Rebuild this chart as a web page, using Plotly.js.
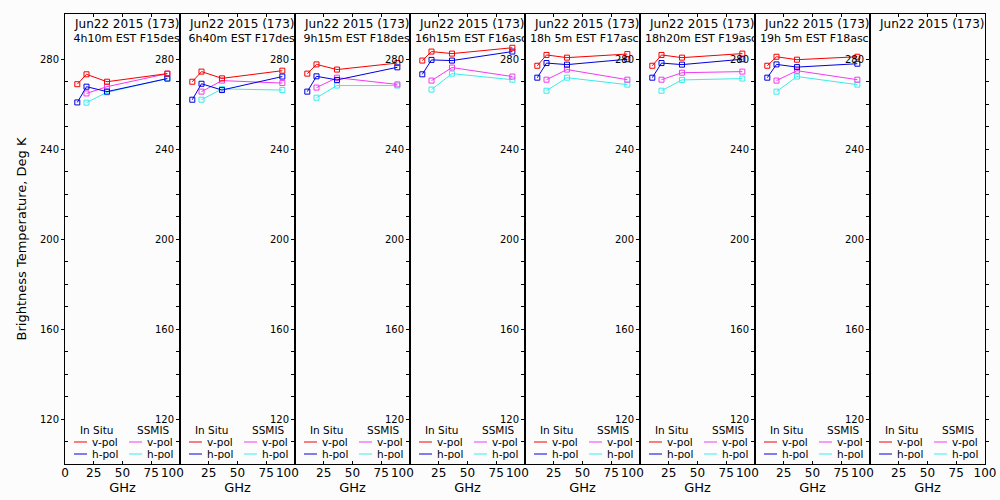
<!DOCTYPE html>
<html>
<head>
<meta charset="utf-8">
<script src="https://cdn.plot.ly/plotly-3.0.1.min.js"></script>
<style>
  html, body { margin: 0; padding: 0; background: #fcfcfc; }
  #chart { width: 1000px; height: 500px; }
</style>
</head>
<body>
<div id="chart"></div>
<script>
// ---- data ----
const dateLabel = 'Jun22 2015 (173)';
const passTimes = [' 4h10m', ' 6h40m', ' 9h15m', '16h15m', '18h 5m', '18h20m', '19h 5m', null];
const satPasses = ['F15desc', 'F17desc', 'F18desc', 'F16asc', 'F17asc', 'F19asc', 'F18asc', null];

const inSituGHz = [10.7, 18.7, 36.5, 89.0];
const ssmisGHz = [18.7, 36.5, 89.0];

const inSituV = [
  [268.8, 273.2, 269.9, 273.5],
  [269.9, 274.4, 271.4, 274.8],
  [273.5, 277.6, 275.3, 278.2],
  [279.3, 283.3, 282.4, 285.0],
  [277.0, 281.8, 280.6, 282.2],
  [277.0, 281.8, 280.6, 282.4],
  [277.0, 281.0, 279.7, 281.0],
  []
];
const inSituH = [
  [260.7, 267.7, 265.5, 271.3],
  [261.9, 269.0, 266.2, 272.2],
  [265.5, 272.3, 270.7, 276.3],
  [273.2, 279.6, 279.3, 283.3],
  [271.7, 278.2, 277.5, 279.9],
  [271.7, 278.2, 277.5, 279.9],
  [271.7, 277.6, 276.4, 277.9],
  []
];
const ssmisV = [
  [264.7, 267.7, 273.5],
  [265.5, 270.4, 269.3],
  [267.3, 271.7, 268.7],
  [270.4, 276.2, 272.2],
  [270.8, 275.3, 270.8],
  [270.8, 273.9, 274.4],
  [270.4, 274.8, 270.8],
  []
];
const ssmisH = [
  [260.6, 265.2, 271.3],
  [261.9, 266.7, 266.2],
  [262.8, 268.2, 268.2],
  [266.4, 273.5, 270.8],
  [265.9, 271.7, 268.6],
  [265.9, 270.7, 271.3],
  [265.5, 272.2, 268.6],
  []
];

const xTickVals = [0, 25, 50, 75, 100];
const xTickText = ['0', '25', '50', '75', '100'];
const yTickVals = [120, 160, 200, 240, 280];
const yMinorVals = [110, 130, 140, 150, 170, 180, 190, 210, 220, 230, 250, 260, 270];
const legendHeaders = ['In Situ', 'SSMIS'];
const polNames = ['v-pol', 'h-pol'];
const yTitle = 'Brightness Temperature, Deg K';
const xTitle = 'GHz';

// ---- styles ----
const FONT = 'DejaVu Sans, sans-serif';
const colInSituV = 'rgb(245,0,0)';
const colInSituH = 'rgb(0,0,225)';
const colSsmisV = 'rgb(240,60,240)';
const colSsmisH = 'rgb(60,235,235)';
const legendColors = [[colInSituV, colInSituH], [colSsmisV, colSsmisH]];

const nP = 8;
const traces = [];
const layout = {
  width: 1000, height: 500,
  margin: {l: 65, r: 15, t: 14, b: 36},
  paper_bgcolor: '#fcfcfc', plot_bgcolor: '#fcfcfc',
  font: {family: FONT, size: 11, color: '#000'},
  showlegend: false,
  annotations: [],
  shapes: []
};

const nb = s => s.replace(/^ +/, m => '\u00a0'.repeat(m.length));
const py = pix => (464 - pix) / 450;   // pixel row -> paper fraction of the plot area
const px = pix => pix / 115;           // pixel offset inside a panel -> domain fraction

for (let k = 1; k <= nP; k++) {
  const i = k - 1;
  const xa = 'x' + (k === 1 ? '' : k);
  const ya = 'y' + (k === 1 ? '' : k);
  const mk = (x, y, c) => ({
    x: x, y: y, xaxis: xa, yaxis: ya, type: 'scatter', mode: 'lines+markers',
    line: {color: c, width: 1},
    marker: {symbol: 'square-open', size: 5, color: c, line: {width: 1, color: c}},
    hoverinfo: 'x+y'
  });
  traces.push(mk(ssmisGHz, ssmisH[i], colSsmisH));
  traces.push(mk(ssmisGHz, ssmisV[i], colSsmisV));
  traces.push(mk(inSituGHz, inSituH[i], colInSituH));
  traces.push(mk(inSituGHz, inSituV[i], colInSituV));

  const tt = xTickText.map((t, j) => {
    if (j === 0 && k > 1) return '';
    if (j === xTickText.length - 1 && k < nP) return t + '\u00a0\u00a0\u00a0\u00a0';
    return t;
  });

  layout['xaxis' + (k === 1 ? '' : k)] = {
    domain: [i / nP, k / nP], range: [0, 100], anchor: ya,
    tickmode: 'array', tickvals: xTickVals, ticktext: tt,
    ticks: 'inside', ticklen: 3, tickcolor: '#000',
    ticklabeloverflow: 'allow', ticklabelstandoff: -2,
    mirror: 'allticks', showline: true, linecolor: '#000', linewidth: 1,
    showgrid: false, zeroline: false, fixedrange: true,
    tickfont: {family: FONT, size: 12},
    title: {text: xTitle, font: {family: FONT, size: 13}, standoff: 1}
  };
  const yax = {
    anchor: xa, side: 'left', range: [100, 300],
    tickmode: 'array', tickvals: yTickVals,
    ticks: 'outside', ticklen: 3, tickcolor: '#000',
    minor: {tickmode: 'array', tickvals: yMinorVals, ticks: k === 1 ? 'inside' : 'outside', ticklen: 3, tickcolor: '#000'},
    showline: true, mirror: k === nP ? 'ticks' : true, linecolor: '#000', linewidth: 1,
    showgrid: false, zeroline: false, fixedrange: true,
    tickfont: {family: FONT, size: 10}
  };
  if (k === 1) yax.title = {text: yTitle, font: {family: FONT, size: 13}, standoff: 10};
  layout['yaxis' + (k === 1 ? '' : k)] = yax;

  // panel titles
  const dref = xa + ' domain';
  layout.annotations.push({
    xref: dref, yref: 'paper', x: px(7), y: py(24),
    xanchor: 'left', yanchor: 'middle', showarrow: false,
    text: dateLabel, font: {family: FONT, size: 12}
  });
  if (passTimes[i]) {
    layout.annotations.push({
      xref: dref, yref: 'paper', x: px(4), y: py(38),
      xanchor: 'left', yanchor: 'middle', showarrow: false,
      width: 111, align: 'left', borderpad: 0,
      text: nb(passTimes[i] + ' EST ' + satPasses[i]), font: {family: FONT, size: 11}
    });
  }
  // legend per panel (key line + label)
  const headX = [31, 88];
  const keyX = [[9, 22], [64, 77]];
  const labX = [25, 80];
  const rowPix = [442, 454];
  for (let g = 0; g < 2; g++) {
    layout.annotations.push({
      xref: dref, yref: 'paper', x: px(headX[g]), y: py(430),
      xanchor: 'center', yanchor: 'middle', showarrow: false,
      text: legendHeaders[g], font: {family: FONT, size: 10.5}
    });
    polNames.forEach((p, r) => {
      layout.shapes.push({
        type: 'line', xref: dref, yref: 'paper',
        x0: px(keyX[g][0]), x1: px(keyX[g][1]), y0: py(rowPix[r]), y1: py(rowPix[r]),
        line: {color: legendColors[g][r], width: 1}
      });
      layout.annotations.push({
        xref: dref, yref: 'paper', x: px(labX[g]), y: py(rowPix[r]),
        xanchor: 'left', yanchor: 'middle', showarrow: false,
        text: p, font: {family: FONT, size: 10.5}
      });
    });
  }
}

Plotly.newPlot('chart', traces, layout, {displayModeBar: false, staticPlot: true});
</script>
</body>
</html>
